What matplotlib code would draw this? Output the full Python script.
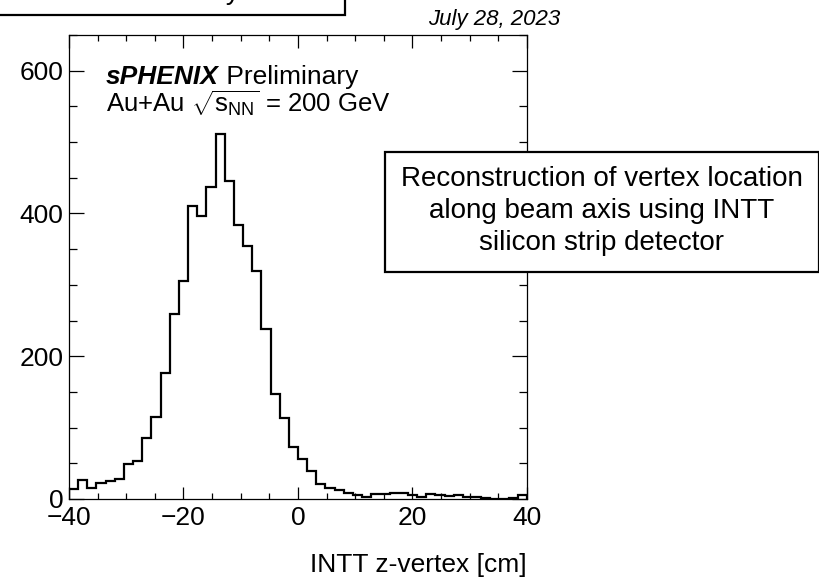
import numpy as np
import matplotlib
matplotlib.use("Agg")
import matplotlib.pyplot as plt
from matplotlib.patches import Rectangle

plt.rcParams['font.family'] = ['Liberation Sans', 'DejaVu Sans']
plt.rcParams['mathtext.fontset'] = 'custom'
plt.rcParams['mathtext.rm'] = 'Liberation Sans'
plt.rcParams['mathtext.it'] = 'Liberation Sans:italic'
plt.rcParams['mathtext.bf'] = 'Liberation Sans:bold'

# z-vertex histogram, 50 bins from -40 to 40 cm
z_range = (-40, 40)
counts = [14, 27, 16, 23, 25, 28, 49, 53, 85, 115,
          177, 259, 305, 411, 397, 437, 511, 445, 384, 355,
          319, 238, 147, 113, 73, 56, 39, 21, 15, 12,
          9, 6, 3, 7, 7, 8, 8, 6, 3, 7,
          5, 4, 5, 3, 3, 1, 0, 0, 2, 6]
x_ticks = [-40, -20, 0, 20, 40]
y_ticks = [0, 200, 400, 600]

edges = np.linspace(z_range[0], z_range[1], len(counts) + 1)

fig = plt.figure(figsize=(8.2, 5.77), dpi=100)
ax = fig.add_axes([69/820, 78/577, 458/820, 464/577])

ax.stairs(counts, edges, color='black', linewidth=1.6)
ax.set_xlim(z_range)
ax.set_ylim(0, 650)
ax.set_xticks(x_ticks)
ax.set_yticks(y_ticks)
ax.set_xticks(np.arange(-40, 41, 5), minor=True)
ax.set_yticks(np.arange(0, 651, 50), minor=True)
ax.tick_params(axis='both', which='both', direction='in', top=True, right=True,
               labelsize=19, width=0.9)
ax.tick_params(axis='x', which='major', length=9, pad=5)
ax.tick_params(axis='x', which='minor', length=4.5)
ax.tick_params(axis='y', which='major', length=11, pad=4)
ax.tick_params(axis='y', which='minor', length=6)
for s in ax.spines.values():
    s.set_linewidth(0.9)

t1 = ax.text(0.081, 0.894, 'sPHENIX', transform=ax.transAxes, fontsize=19,
             fontweight='bold', fontstyle='italic', va='baseline')
ax.annotate(' Preliminary', xy=(1, 0), xycoords=t1, fontsize=19, va='bottom')
ax.text(0.081, 0.832, r'Au+Au $\sqrt{\mathrm{s}_{\mathrm{NN}}}$ = 200 GeV',
        transform=ax.transAxes, fontsize=18.5, va='baseline')

fig.text(560/820, 1 - 25/577, 'July 28, 2023', fontsize=16, fontstyle='italic',
         ha='right', va='baseline')
fig.text(527/820, 5/577, 'INTT z-vertex [cm]', fontsize=19, ha='right', va='baseline')

# text box on the right
fig.patches.append(Rectangle((385/820, 305/577), 434/820, 120/577,
                             transform=fig.transFigure, facecolor='white',
                             edgecolor='black', linewidth=1.6, zorder=5))
fig.text(602/820, 1 - 211/577,
         'Reconstruction of vertex location\nalong beam axis using INTT\nsilicon strip detector',
         fontsize=20, ha='center', va='center', linespacing=1.3, zorder=6)

# box cut off at the top
fig.patches.append(Rectangle((-10/820, 1 - 15/577), 355/820, 60/577,
                             transform=fig.transFigure, facecolor='white',
                             edgecolor='black', linewidth=1.6, zorder=5))
fig.text(240/820, 1 + 1/577, 'INTT Preliminary', fontsize=20, ha='right',
         va='baseline', zorder=6)

fig.savefig('out.png', dpi=100)
